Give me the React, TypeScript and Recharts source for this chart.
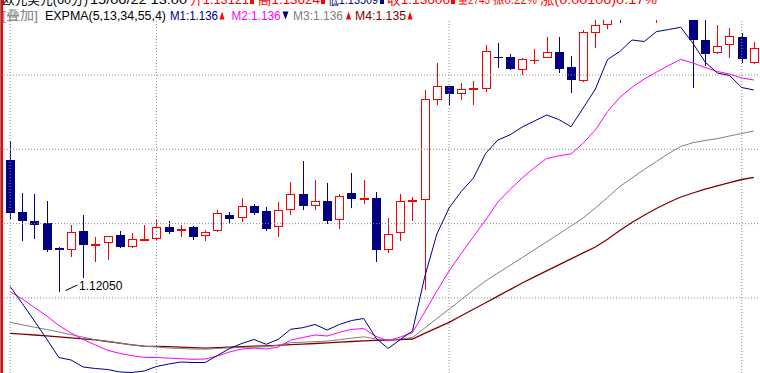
import React from 'react';
import { ComposedChart, Bar, Line, XAxis, YAxis, ReferenceLine } from 'recharts';

// ---- candle data (60-min EUR/USD bars) ----
const opens = [
  1.12928, 1.12578, 1.12518, 1.12504, 1.12333, 1.12329, 1.1245, 1.12356, 1.12376, 1.12424,
  1.1235, 1.1239, 1.12403, 1.12477, 1.12457, 1.12477, 1.12424, 1.12457, 1.12558, 1.12545,
  1.12619, 1.12585, 1.12484, 1.12598, 1.12699, 1.12625, 1.12652, 1.12531, 1.12706, 1.12666,
  1.12672, 1.12329, 1.12444, 1.12649, 1.12666, 1.13339, 1.13426, 1.13379, 1.13406, 1.13413,
  1.13624, 1.13621, 1.1354, 1.13598, 1.13621, 1.13655, 1.13554, 1.13466, 1.13789, 1.13843,
  1.1396, 1.1392, 1.1397, 1.1402, 1.1406, 1.1403, 1.1405, 1.13735, 1.13655, 1.13709,
  1.13756, 1.13587,
];
const highs = [
  1.13056, 1.12706, 1.12699, 1.12652, 1.12343, 1.12491, 1.12558, 1.1241, 1.12417, 1.1245,
  1.12437, 1.12491, 1.12531, 1.12518, 1.12491, 1.12484, 1.12457, 1.12592, 1.12578, 1.12672,
  1.12632, 1.12612, 1.12646, 1.1278, 1.12921, 1.12794, 1.12773, 1.12699, 1.12841, 1.12794,
  1.12713, 1.12538, 1.12699, 1.12679, 1.13399, 1.13581, 1.13426, 1.13446, 1.1346, 1.13702,
  1.13715, 1.13641, 1.13614, 1.13675, 1.13756, 1.13756, 1.13628, 1.13803, 1.13877, 1.1393,
  1.1399, 1.1401, 1.1405, 1.141, 1.1409, 1.1408, 1.1408, 1.1388, 1.13836, 1.13816,
  1.13783, 1.13722,
];
const lows = [
  1.12538, 1.1239, 1.12403, 1.12316, 1.1205, 1.12282, 1.12141, 1.12249, 1.12262, 1.12343,
  1.12343, 1.12387, 1.12397, 1.12437, 1.12417, 1.12397, 1.1239, 1.1245, 1.12511, 1.12518,
  1.12565, 1.12457, 1.12417, 1.12565, 1.12598, 1.12598, 1.12504, 1.12471, 1.12612, 1.12639,
  1.12249, 1.12309, 1.1239, 1.12524, 1.1206, 1.13305, 1.13305, 1.13339, 1.13305, 1.13392,
  1.13554, 1.1354, 1.13507, 1.13581, 1.13618, 1.1352, 1.13386, 1.1346, 1.13688, 1.13818,
  1.13857, 1.139, 1.1395, 1.13857, 1.1399, 1.1398, 1.13419, 1.13567, 1.13648, 1.13621,
  1.13587, 1.13581,
];
const closes = [
  1.12578, 1.12524, 1.12498, 1.12329, 1.12326, 1.12444, 1.12363, 1.12366, 1.12417, 1.1235,
  1.12397, 1.12397, 1.12477, 1.1245, 1.12464, 1.12417, 1.12444, 1.12572, 1.12538, 1.12619,
  1.12578, 1.12471, 1.12592, 1.12699, 1.12625, 1.12652, 1.12524, 1.12686, 1.12672, 1.12672,
  1.12329, 1.1243, 1.12652, 1.12659, 1.13339, 1.13426, 1.13379, 1.13406, 1.13413, 1.13661,
  1.13621, 1.13547, 1.13608, 1.13601, 1.13655, 1.13547, 1.13473, 1.13789, 1.13836, 1.139,
  1.1392, 1.1397, 1.1402, 1.1406, 1.1403, 1.1405, 1.13742, 1.13648, 1.13695, 1.13762,
  1.13614, 1.13682,
];

// ---- EXPMA overlay (own scale) ----
const m1 = [
  1.14115, 1.13945, 1.1377, 1.1359, 1.13405, 1.1338, 1.1331, 1.13295, 1.13285, 1.1326,
  1.13255, 1.1327, 1.13315, 1.1334, 1.1336, 1.13355, 1.13355, 1.13425, 1.13495, 1.13545,
  1.13585, 1.13537, 1.13587, 1.13687, 1.13703, 1.13735, 1.1368, 1.13735, 1.13775, 1.13795,
  1.136, 1.13495, 1.13585, 1.1367, 1.1421, 1.1464, 1.149, 1.15065, 1.152, 1.15445,
  1.1558, 1.15632, 1.1571, 1.1577, 1.1583, 1.15785, 1.15713, 1.159, 1.1609, 1.16385,
  1.16465, 1.1658, 1.16565, 1.16663, 1.16685, 1.16707, 1.16547, 1.1636, 1.1625, 1.16225,
  1.16105, 1.1608,
];
const m2 = [
  1.14063, 1.1399, 1.13905, 1.1382, 1.13725, 1.1365, 1.13585, 1.1353, 1.13477, 1.13446,
  1.13423, 1.13406, 1.13404, 1.13399, 1.13393, 1.13387, 1.1339, 1.1342, 1.1346, 1.1349,
  1.13498, 1.1349, 1.1351, 1.13578, 1.13605, 1.1363, 1.1362, 1.13657, 1.13686, 1.13695,
  1.13617, 1.1357, 1.1361, 1.13655, 1.1386, 1.1407, 1.1427, 1.14445, 1.14615, 1.1478,
  1.1496, 1.15085, 1.152, 1.15305, 1.15395, 1.15422, 1.1544, 1.1555, 1.1568, 1.15865,
  1.16005, 1.16107, 1.1619, 1.16258, 1.16325, 1.16386, 1.1635, 1.16305, 1.16265, 1.1624,
  1.162, 1.1618,
];
const m3 = [
  1.13757, 1.13732, 1.13708, 1.13685, 1.1366, 1.13634, 1.13608, 1.13582, 1.13565, 1.13548,
  1.13531, 1.13517, 1.13511, 1.135, 1.13495, 1.1349, 1.13488, 1.13495, 1.13502, 1.13506,
  1.13509, 1.13512, 1.13528, 1.13553, 1.13558, 1.13564, 1.13569, 1.13583, 1.13598, 1.13612,
  1.1359, 1.13583, 1.1359, 1.13605, 1.137, 1.13794, 1.13888, 1.13983, 1.1408, 1.1417,
  1.1425, 1.14326, 1.14404, 1.14483, 1.14561, 1.1464, 1.1472, 1.148, 1.149, 1.15005,
  1.15115, 1.152, 1.15285, 1.15365, 1.15445, 1.15515, 1.15553, 1.15575, 1.15594, 1.1562,
  1.15645, 1.1567,
];
const m4 = [
  1.13647, 1.13638, 1.1363, 1.13621, 1.13612, 1.13602, 1.13591, 1.13581, 1.13565, 1.13548,
  1.13531, 1.13519, 1.13517, 1.13514, 1.13509, 1.13503, 1.13498, 1.13503, 1.13508, 1.13513,
  1.13518, 1.13522, 1.13527, 1.13533, 1.13539, 1.13545, 1.13552, 1.13558, 1.13565, 1.13571,
  1.13576, 1.13579, 1.13583, 1.1359, 1.13647, 1.13702, 1.13757, 1.13822, 1.13888, 1.13953,
  1.14019, 1.14084, 1.1415, 1.14212, 1.14272, 1.14332, 1.14391, 1.14451, 1.1451, 1.14588,
  1.14675, 1.14755, 1.14828, 1.14895, 1.14955, 1.1501, 1.1505, 1.15088, 1.15121, 1.15154,
  1.15185, 1.15207,
];

const dayStarts = [0, 12, 36, 60];
const priceGrid = [1.12, 1.125, 1.13, 1.135];
const priceDomain = [1.11495, 1.1387];
const emaDomain = [1.1325, 1.1678];
const lowMark = 1.1205;

const data = opens.map((o, i) => ({
  i,
  open: o,
  high: highs[i],
  low: lows[i],
  close: closes[i],
  m1: m1[i],
  m2: m2[i],
  m3: m3[i],
  m4: m4[i],
}));

const RED = '#ff0000';
const NAVY = '#000080';
const GRID = '#8c8c8c';
const FONT = "'Liberation Sans', Arial, 'Noto Sans CJK SC', sans-serif";

function Candle(props: any) {
  const { x, y, width, height, payload } = props;
  if (x == null || y == null || !payload) return null;
  const { open, close, high, low } = payload;
  const top = Math.min(y, y + height);
  const span = Math.abs(height);
  const py = (v: number) => top + ((high - v) / (high - low)) * span;
  const cx = Math.floor(x + width / 2) + 0.5;
  const up = close >= open;
  const color = up ? RED : NAVY;
  const yh = Math.round(py(high));
  const yl = Math.round(py(low));
  const yo = py(open);
  const yc = py(close);
  const bt = Math.round(Math.min(yo, yc));
  const bb = Math.round(Math.max(yo, yc));
  const half = 4;
  let body: any;
  if (bb - bt < 1) {
    body = (
      <line x1={cx - half - 0.5} x2={cx + half + 0.5} y1={bt + 0.5} y2={bt + 0.5} stroke={color} strokeWidth={1} />
    );
  } else if (up) {
    body = (
      <rect x={cx - half} y={bt + 0.5} width={half * 2} height={bb - bt} fill="#ffffff" stroke={color} strokeWidth={1} />
    );
  } else {
    body = <rect x={cx - half - 0.5} y={bt} width={half * 2 + 1} height={bb - bt + 1} fill={color} />;
  }
  return (
    <g>
      <line x1={cx} x2={cx} y1={yh} y2={yl + 1} stroke={color} strokeWidth={1} />
      {body}
      {low === lowMark ? (
        <g>
          <line x1={cx + 6} y1={yl - 0.5} x2={cx + 18} y2={yl - 6} stroke="#000000" strokeWidth={1} />
          <text x={cx + 19.5} y={yl - 1} fontSize={12} fontFamily={FONT} fill="#000000">
            {lowMark.toFixed(5)}
          </text>
        </g>
      ) : null}
    </g>
  );
}

const UpMark = ({ x, y, c }: { x: number; y: number; c: string }) => (
  <polygon points={`${x},${y} ${x + 5},${y} ${x + 2.5},${y - 8}`} fill={c} />
);
const DownMark = ({ x, y, c }: { x: number; y: number; c: string }) => (
  <polygon points={`${x},${y - 8} ${x + 6},${y - 8} ${x + 3},${y}`} fill={c} />
);

function Header() {
  const l1 = 3.5;
  const l2 = 19.5;
  const seg = (t: string, x: number, w: number, c: string, yy: number, fs: number) => (
    <text x={x} y={yy} fill={c} fontSize={fs} fontFamily={FONT} textLength={w} lengthAdjust="spacingAndGlyphs">
      {t}
    </text>
  );
  return (
    <svg width={760} height={24} style={{ position: 'absolute', left: 0, top: 0, pointerEvents: 'none' }}>
      {seg('欧元美元(60分)', 2, 86, '#000', l1, 13)}
      {seg('15/06/22 13:00', 90, 97, '#000', l1, 13)}
      {seg('开1.13121', 190, 59, RED, l1, 13)}
      <rect x={250} y={0} width={4} height={4} fill={RED} />
      {seg('高1.13624', 258, 62, RED, l1, 13)}
      <rect x={321} y={0} width={4} height={4} fill={RED} />
      {seg('低1.13509', 328, 50, NAVY, l1, 13)}
      <rect x={380} y={0} width={4} height={4} fill={NAVY} />
      {seg('收1.13606', 387, 63, RED, l1, 13)}
      <rect x={451} y={0} width={4} height={4} fill={RED} />
      {seg('量2743', 458, 32, RED, l1, 10)}
      {seg('振0.22%', 493, 44, RED, l1, 12)}
      {seg('涨(0.00106)0.17%', 540, 117, RED, l1, 13)}

      {seg('[叠加]', 2, 36, '#808080', l2, 12)}
      {seg('EXPMA(5,13,34,55,4)', 45, 121, '#000000', l2, 12)}
      {seg('M1:1.136', 170, 48, NAVY, l2, 12)}
      <UpMark x={219.5} y={l2} c={RED} />
      {seg('M2:1.136', 231.5, 49, '#ff00ff', l2, 12)}
      <DownMark x={282.5} y={l2} c={NAVY} />
      {seg('M3:1.136', 293, 50, '#808080', l2, 12)}
      <UpMark x={346} y={l2} c={RED} />
      {seg('M4:1.135', 355, 51, '#800000', l2, 12)}
      <UpMark x={407.5} y={l2} c={RED} />
    </svg>
  );
}

export default function App() {
  return (
    <div style={{ position: 'absolute', left: 0, top: 0, width: 760, height: 373, background: '#ffffff', overflow: 'hidden' }}>
      <ComposedChart width={760} height={373} data={data} margin={{ top: 20, right: 0, bottom: 0, left: 4 }}>
        <XAxis dataKey="i" type="category" hide />
        <YAxis yAxisId="p" type="number" domain={priceDomain} allowDataOverflow hide />
        <YAxis yAxisId="e" type="number" domain={emaDomain} allowDataOverflow hide />
        {priceGrid.map((v) => (
          <ReferenceLine key={`h${v}`} yAxisId="p" y={v} stroke={GRID} strokeDasharray="1 2" strokeWidth={1} />
        ))}
        {dayStarts.map((d) => (
          <ReferenceLine key={`v${d}`} yAxisId="p" x={d} stroke={GRID} strokeDasharray="1 2" strokeWidth={1} />
        ))}
        <Bar
          yAxisId="p"
          dataKey={(d: any) => [d.low, d.high]}
          barSize={9}
          shape={(p: any) => <Candle {...p} />}
          isAnimationActive={false}
        />
        <Line yAxisId="e" type="linear" dataKey="m4" stroke="#800000" strokeWidth={1.3} dot={false} activeDot={false} isAnimationActive={false} />
        <Line yAxisId="e" type="linear" dataKey="m3" stroke="#808080" strokeWidth={1} dot={false} activeDot={false} isAnimationActive={false} />
        <Line yAxisId="e" type="linear" dataKey="m2" stroke="#ff00ff" strokeWidth={1} dot={false} activeDot={false} isAnimationActive={false} />
        <Line yAxisId="e" type="linear" dataKey="m1" stroke="#000080" strokeWidth={1} dot={false} activeDot={false} isAnimationActive={false} />
      </ComposedChart>
      <div style={{ position: 'absolute', left: 0, top: 0, width: 1, height: 373, background: '#808080' }} />
      <div style={{ position: 'absolute', left: 1, top: 0, width: 2, height: 373, background: '#ff0000' }} />
      <Header />
    </div>
  );
}
